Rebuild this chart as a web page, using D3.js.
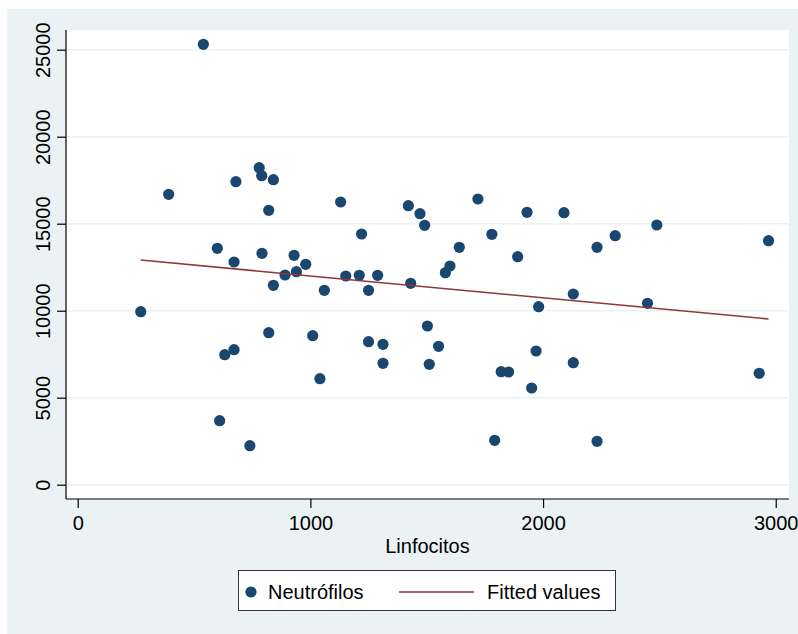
<!DOCTYPE html>
<html>
<head>
<meta charset="utf-8">
<script src="https://cdn.jsdelivr.net/npm/d3@7"></script>
<style>
  html, body { margin: 0; padding: 0; background: #ffffff; }
  svg { display: block; font-family: "Liberation Sans", Arial, Helvetica, sans-serif; }
</style>
</head>
<body>
<svg id="chart" width="798" height="634"></svg>
<script>
// Linfocitos (x) vs Neutrófilos (y)
const linfocitos = [540, 391, 680, 780, 791, 841, 821, 1130, 1220, 600,
	672, 792, 930, 980, 891, 940, 841, 1060, 1152, 1210,
	1289, 1250, 271, 1421, 1471, 1491, 1720, 1780, 1640, 1600,
	1580, 1431, 1931, 1891, 2090, 2232, 2310, 2489, 2969, 2130,
	1981, 2449, 632, 672, 821, 1010, 1041, 1250, 1312, 1312,
	610, 740, 1503, 1551, 1511, 1820, 1852, 1970, 1951, 2130,
	2929, 1792, 2232];
const neutrofilos = [25310, 16690, 17414, 18218, 17759, 17529, 15770, 16247, 14408, 13586,
	12799, 13299, 13184, 12667, 12052, 12241, 11460, 11172, 11994, 12034,
	12034, 11172, 9943, 16034, 15575, 14908, 16420, 14391, 13644, 12569,
	12184, 11575, 15655, 13103, 15632, 13644, 14310, 14925, 14023, 10960,
	10230, 10425, 7471, 7759, 8736, 8563, 6092, 8218, 8069, 6977,
	3678, 2241, 9121, 7954, 6920, 6494, 6477, 7684, 5557, 7011,
	6402, 2552, 2494];

// fitted regression line endpoints
const fitX = [271, 2969];
const fitY = [12910, 9525];

const xTicks = [0, 1000, 2000, 3000];
const yTicks = [0, 5000, 10000, 15000, 20000, 25000];

const legendLabels = ["Neutrófilos", "Fitted values"];

const navy = "#1a476f";
const maroon = "#90353b";
const bgColor = "#eaf2f3";

const svg = d3.select("#chart");

// outer graph region
svg.append("rect")
	.attr("x", 7).attr("y", 9)
	.attr("width", 791).attr("height", 625)
	.attr("fill", bgColor);

const plot = { left: 66, right: 789, top: 30, bottom: 499 };

svg.append("rect")
	.attr("x", plot.left).attr("y", plot.top)
	.attr("width", plot.right - plot.left)
	.attr("height", plot.bottom - plot.top)
	.attr("fill", "#ffffff");

const x = d3.scaleLinear()
	.domain([-50.3, 3057])
	.range([plot.left, plot.right]);

const y = d3.scaleLinear()
	.domain([-822, 26132])
	.range([plot.bottom, plot.top]);

// grid lines
svg.append("g")
	.selectAll("line")
	.data(yTicks)
	.enter().append("line")
		.attr("x1", plot.left).attr("x2", plot.right)
		.attr("y1", d => y(d)).attr("y2", d => y(d))
		.attr("stroke", bgColor)
		.attr("stroke-width", 1.6);

// y axis
const yAxis = svg.append("g")
	.attr("transform", "translate(" + plot.left + ",0)")
	.call(d3.axisLeft(y).tickValues(yTicks).tickSize(9).tickSizeOuter(0).tickFormat(d3.format("d")));

yAxis.select(".domain").remove();
yAxis.append("line")
	.attr("x1", 0).attr("x2", 0)
	.attr("y1", plot.top).attr("y2", plot.bottom)
	.attr("stroke", "#000").attr("stroke-width", 1.2);
yAxis.selectAll(".tick line").attr("stroke", "#000").attr("stroke-width", 1.2);
yAxis.selectAll(".tick text")
	.attr("x", null).attr("dy", null)
	.attr("transform", "translate(-16,0) rotate(-90)")
	.attr("text-anchor", "middle")
	.attr("fill", "#000")
	.style("font-size", "20px");

// x axis
const xAxis = svg.append("g")
	.attr("transform", "translate(0," + plot.bottom + ")")
	.call(d3.axisBottom(x).tickValues(xTicks).tickSize(9).tickSizeOuter(0).tickFormat(d3.format("d")));

xAxis.select(".domain").remove();
xAxis.append("line")
	.attr("x1", plot.left).attr("x2", plot.right)
	.attr("y1", 0).attr("y2", 0)
	.attr("stroke", "#000").attr("stroke-width", 1.2);
xAxis.selectAll(".tick line").attr("stroke", "#000").attr("stroke-width", 1.2);
xAxis.selectAll(".tick text")
	.attr("y", 31).attr("dy", null)
	.attr("fill", "#000")
	.style("font-size", "20px");

svg.append("text")
	.attr("x", (plot.left + plot.right) / 2)
	.attr("y", 553)
	.attr("text-anchor", "middle")
	.style("font-size", "20px")
	.text("Linfocitos");

// scatter points
svg.append("g")
	.selectAll("circle")
	.data(d3.zip(linfocitos, neutrofilos))
	.enter().append("circle")
		.attr("cx", d => x(d[0]))
		.attr("cy", d => y(d[1]))
		.attr("r", 5.6)
		.attr("fill", navy);

// fitted line
svg.append("path")
	.datum(d3.zip(fitX, fitY))
	.attr("d", d3.line().x(d => x(d[0])).y(d => y(d[1])))
	.attr("fill", "none")
	.attr("stroke", maroon)
	.attr("stroke-width", 1.6);

// legend
const legend = svg.append("g");
legend.append("rect")
	.attr("x", 238.5).attr("y", 570.5)
	.attr("width", 377).attr("height", 40)
	.attr("fill", "#fff")
	.attr("stroke", "#333")
	.attr("stroke-width", 1);

legend.append("circle")
	.attr("cx", 251).attr("cy", 592)
	.attr("r", 5.6)
	.attr("fill", navy);
legend.append("text")
	.attr("x", 268).attr("y", 599)
	.style("font-size", "20px")
	.text(legendLabels[0]);

legend.append("line")
	.attr("x1", 399).attr("x2", 474)
	.attr("y1", 592).attr("y2", 592)
	.attr("stroke", maroon)
	.attr("stroke-width", 1.6);
legend.append("text")
	.attr("x", 487).attr("y", 599)
	.style("font-size", "20px")
	.text(legendLabels[1]);
</script>
</body>
</html>
